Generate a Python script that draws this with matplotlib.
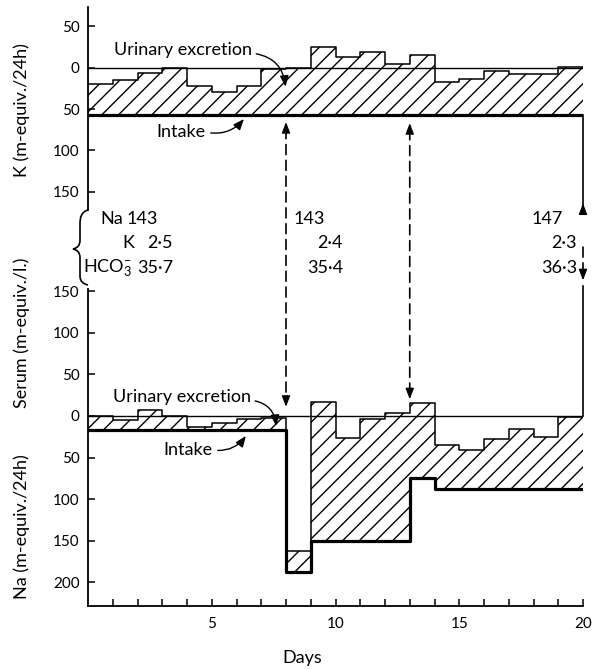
import numpy as np
import matplotlib
matplotlib.use("Agg")
import matplotlib.pyplot as plt
from matplotlib.patches import ConnectionPatch, PathPatch
from matplotlib.path import Path
from matplotlib.transforms import blended_transform_factory

plt.rcParams['font.family'] = ['Lato', 'DejaVu Sans']
plt.rcParams['mathtext.fontset'] = 'custom'
plt.rcParams['mathtext.rm'] = 'Lato'
plt.rcParams['mathtext.it'] = 'Lato:italic'
plt.rcParams['mathtext.bf'] = 'Lato:bold'
plt.rcParams['hatch.linewidth'] = 1.0

# ---- daily balance data (m-equiv./24h), one value per 24-h period ----
n_days = 20
k_intake = [57] * 20
k_excretion = [37, 42, 51, 57, 35, 28, 35, 56, 57, 82,
               70, 76, 62, 72, 40, 43, 53, 49, 49, 58]
na_intake = [17] * 8 + [188] + [150] * 4 + [75] + [88] * 6
na_excretion = [17, 12, 24, 17, 4, 8, 13, 15, 26, 167,
                124, 146, 153, 91, 53, 47, 60, 72, 63, 87]

# ---- serum electrolytes (m-equiv./l.) ----
serum_labels = ['Na', 'K', r'HCO$_3^{-}$']
serum_na = [143, 143, 147]
serum_k = [2.5, 2.4, 2.3]
serum_hco3 = [35.7, 35.4, 36.3]

# days marked with arrows (blood samples)
sample_days = [8, 13, 20]

k_ticks = [-50, 0, 50, 100, 150]
low_ticks = [-150, -100, -50, 0, 50, 100, 150, 200]
day_labels = [5, 10, 15, 20]

W, H = 592, 670
fig = plt.figure(figsize=(W / 100, H / 100), dpi=100)


def px_rect(left, top, right, bottom):
    return [left / W, 1 - bottom / H, (right - left) / W, (bottom - top) / H]


ax1 = fig.add_axes(px_rect(88, 7, 583, 210))
ax2 = fig.add_axes(px_rect(88, 289, 583, 606))

ax1.set_xlim(0, n_days)
ax2.set_xlim(0, n_days)
ax1.set_ylim(172, -73.4)
ax2.set_ylim(228.4, -152.6)

for ax in (ax1, ax2):
    for s in ('top', 'right'):
        ax.spines[s].set_visible(False)
    ax.spines['left'].set_linewidth(1.3)
    ax.spines['bottom'].set_linewidth(1.3)
    ax.tick_params(direction='in', length=5, width=1.1, labelsize=11, pad=6)
ax1.spines['bottom'].set_visible(False)
ax1.tick_params(axis='x', bottom=False, labelbottom=False)

ax1.set_yticks(k_ticks, labels=[str(abs(t)) for t in k_ticks])
ax2.set_yticks(low_ticks, labels=[str(abs(t)) for t in low_ticks])
ax2.set_xticks(range(1, n_days + 1),
               labels=[str(d) if d in day_labels else '' for d in range(1, n_days + 1)])
ax2.tick_params(axis='x', pad=8)


def balance(ax, intake, excretion):
    edges = np.arange(0, len(intake) + 1)
    intake = np.asarray(intake, float)
    level = intake - np.asarray(excretion, float)
    lev = np.append(level, level[-1])
    inn = np.append(intake, intake[-1])
    ax.fill_between(edges, lev, inn, step='post', facecolor='none',
                    edgecolor='black', hatch='//', linewidth=0)
    ax.step(edges, lev, where='post', color='black', lw=1.1)
    ax.step(edges, inn, where='post', color='black', lw=2.3)
    ax.plot([0, len(intake)], [0, 0], color='black', lw=1.0)


balance(ax1, k_intake, k_excretion)
balance(ax2, na_intake, na_excretion)

# ---- labels with curved arrows ----
small_head = '-|>,head_length=0.5,head_width=0.2'
txt = dict(fontsize=13, va='center', ha='left')
ax1.annotate('Urinary excretion', xy=(7.98, 23), xytext=(1.05, -21.4),
             arrowprops=dict(arrowstyle=small_head, color='black', lw=1.0,
                             connectionstyle='arc3,rad=-0.4', relpos=(1.0, 0.3),
                             shrinkA=1, shrinkB=0), **txt)
ax1.annotate('Intake', xy=(6.3, 62), xytext=(2.75, 77.7),
             arrowprops=dict(arrowstyle=small_head, color='black', lw=1.0,
                             connectionstyle='arc3,rad=0.3', relpos=(1.0, 0.5),
                             shrinkA=2, shrinkB=0), **txt)
ax2.annotate('Urinary excretion', xy=(7.6, 12), xytext=(1.01, -22.8),
             arrowprops=dict(arrowstyle=small_head, color='black', lw=1.0,
                             connectionstyle='arc3,rad=-0.4', relpos=(1.0, 0.3),
                             shrinkA=1, shrinkB=0), **txt)
ax2.annotate('Intake', xy=(6.38, 24), xytext=(3.03, 40.9),
             arrowprops=dict(arrowstyle=small_head, color='black', lw=1.0,
                             connectionstyle='arc3,rad=0.3', relpos=(1.0, 0.5),
                             shrinkA=2, shrinkB=0), **txt)

# ---- sample arrows linking the two balance panels ----
head = dict(arrowstyle='-|>,head_length=0.65,head_width=0.25', color='black',
            lw=1.0, shrinkA=0, shrinkB=0)
dash = (0, (6, 3.5))
tips = {8: (65.7, -11), 13: (67, -20)}
for d in sample_days[:2]:
    k_tip, na_tip = tips[d]
    con = ConnectionPatch(xyA=(d, k_tip + 8), coordsA=ax1.transData,
                          xyB=(d, na_tip - 8), coordsB=ax2.transData,
                          linestyle=dash, lw=1.2, color='black')
    fig.add_artist(con)
    ax1.annotate('', xy=(d, k_tip), xytext=(d, k_tip + 11), arrowprops=head,
                 annotation_clip=False)
    ax2.annotate('', xy=(d, na_tip), xytext=(d, na_tip - 11), arrowprops=head,
                 annotation_clip=False)

d_end = sample_days[2]
ax1.plot([d_end, d_end], [k_intake[-1], 166], color='black', lw=1.2, clip_on=False)
ax1.annotate('', xy=(d_end, 164), xytext=(d_end, 177), arrowprops=head,
             annotation_clip=False)
con = ConnectionPatch(xyA=(d_end, -203), coordsA=ax2.transData,
                      xyB=(d_end, -172), coordsB=ax2.transData,
                      linestyle=dash, lw=1.2, color='black')
fig.add_artist(con)
ax2.annotate('', xy=(d_end, -163), xytext=(d_end, -175), arrowprops=head,
             annotation_clip=False)
ax2.plot([d_end, d_end], [-156, 0], color='black', lw=1.2, clip_on=False)

# ---- serum values between the panels ----
tr = blended_transform_factory(ax2.transData, fig.transFigure)
row_y = [1 - 219 / H, 1 - 243 / H, 1 - 268 / H]
label_x = [0.48, 1.37, -0.2]
int_anchor = [2.83, 9.58, 19.19]
dec_anchor = [3.43, 10.3, 19.76]
for lab, x, y in zip(serum_labels, label_x, row_y):
    fig.text(x, y, lab, transform=tr, fontsize=13, ha='left', va='center')
for i in range(3):
    fig.text(int_anchor[i], row_y[0], f'{serum_na[i]}', transform=tr,
             fontsize=13, ha='right', va='center')
    fig.text(dec_anchor[i], row_y[1], f'{serum_k[i]:.1f}'.replace('.', '\u00b7'),
             transform=tr, fontsize=13, ha='right', va='center')
    fig.text(dec_anchor[i], row_y[2], f'{serum_hco3[i]:.1f}'.replace('.', '\u00b7'),
             transform=tr, fontsize=13, ha='right', va='center')

# brace grouping the serum values
bx = 88
verts = [(bx, 210), (bx - 7, 212), (bx - 8, 218), (bx - 8, 224),
         (bx - 8, 240),
         (bx - 8, 246), (bx - 11, 248), (bx - 15, 249),
         (bx - 11, 250), (bx - 8, 252), (bx - 8, 258),
         (bx - 8, 276),
         (bx - 8, 282), (bx - 4, 284), (bx, 285)]
codes = [Path.MOVETO, Path.CURVE4, Path.CURVE4, Path.CURVE4,
         Path.LINETO,
         Path.CURVE4, Path.CURVE4, Path.CURVE4,
         Path.CURVE4, Path.CURVE4, Path.CURVE4,
         Path.LINETO,
         Path.CURVE4, Path.CURVE4, Path.CURVE4]
verts_fig = [(x / W, 1 - y / H) for x, y in verts]
fig.add_artist(PathPatch(Path(verts_fig, codes), transform=fig.transFigure,
                         facecolor='none', edgecolor='black', lw=1.2))

# ---- axis titles ----
fig.text(22 / W, 1 - 110 / H, 'K (m-equiv./24h)', rotation=90, fontsize=13,
         ha='center', va='center')
fig.text(22 / W, 1 - 333 / H, 'Serum (m-equiv./l.)', rotation=90, fontsize=13,
         ha='center', va='center')
fig.text(22 / W, 1 - 527 / H, 'Na (m-equiv./24h)', rotation=90, fontsize=13,
         ha='center', va='center')
ax2.text(8.65, 1 - 658 / H, 'Days', transform=blended_transform_factory(ax2.transData, fig.transFigure),
         fontsize=13, ha='center', va='center')

fig.savefig('out.png', dpi=100)
